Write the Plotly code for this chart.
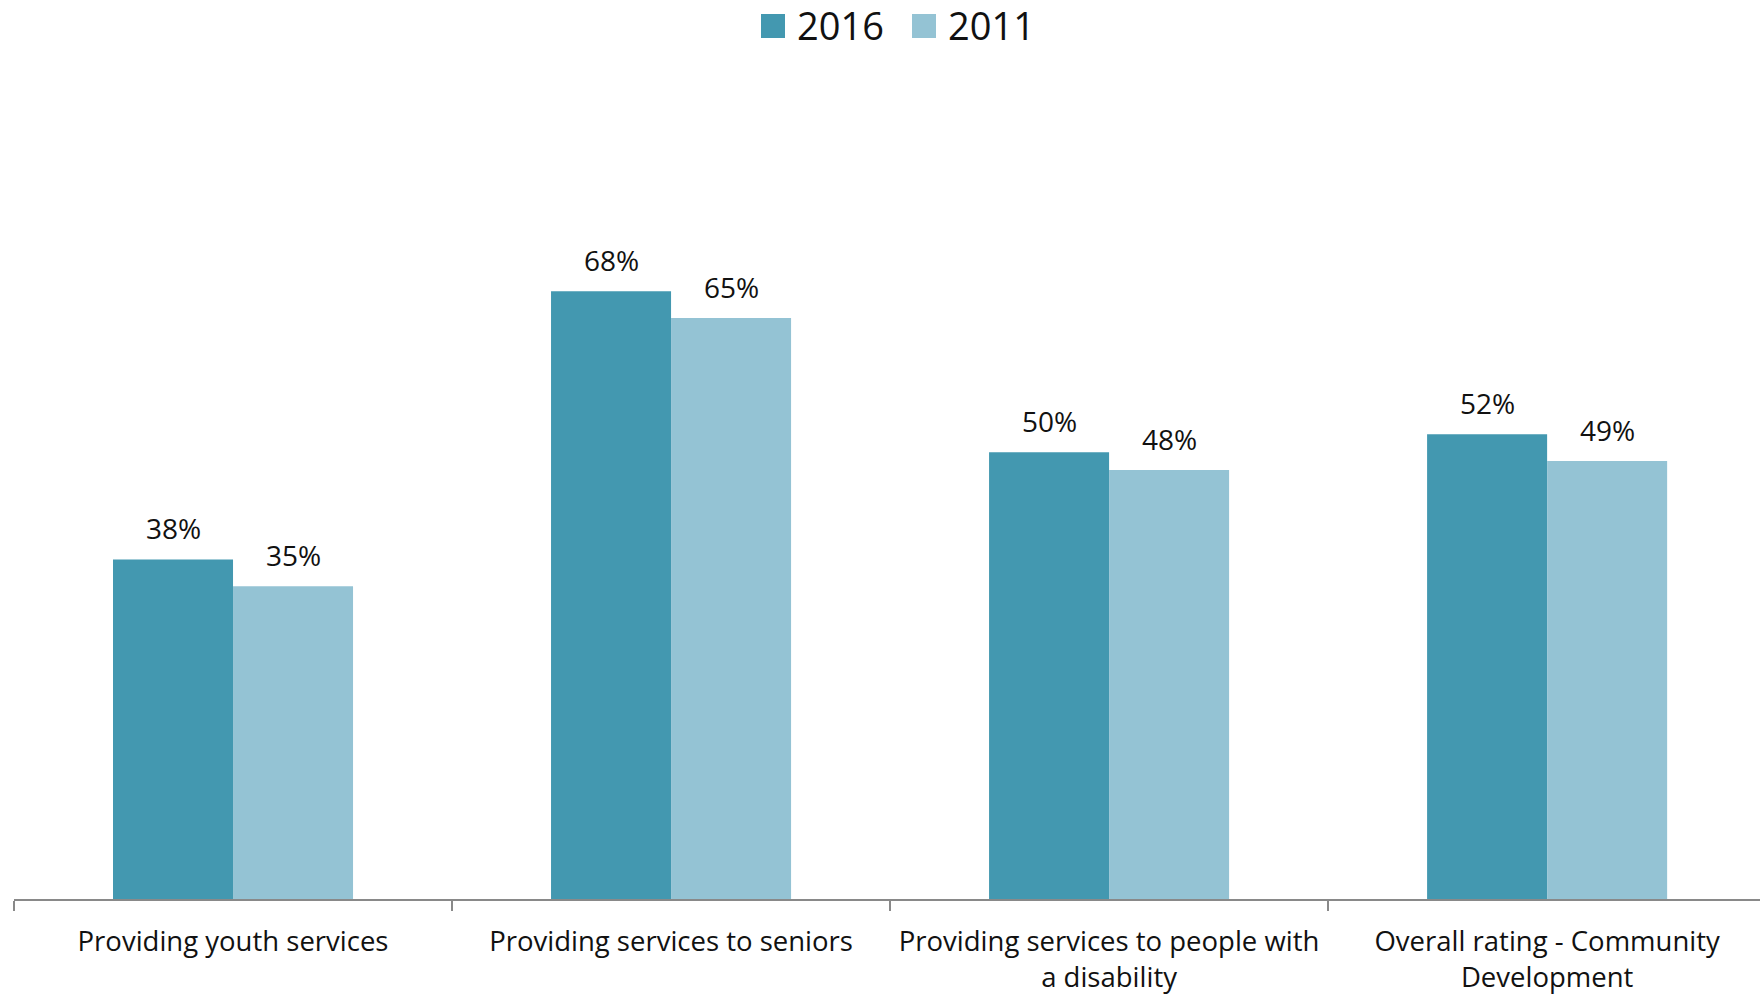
import plotly.graph_objects as go

categories = [
    "Providing youth services",
    "Providing services to seniors",
    "Providing services to people with<br>a disability",
    "Overall rating - Community<br>Development",
]
series_names = ["2016", "2011"]
values_2016 = [0.38, 0.68, 0.50, 0.52]
values_2011 = [0.35, 0.65, 0.48, 0.49]

colors = {"2016": "#4398B0", "2011": "#94C3D4"}
FONT = "Open Sans"
TEXT_COLOR = "#111111"

W, H = 1760, 996
margin = dict(l=14, r=0, t=184, b=97)
plot_w = W - margin["l"] - margin["r"]
plot_h = H - margin["t"] - margin["b"]

fig = go.Figure()
for name, vals in zip(series_names, [values_2016, values_2011]):
    fig.add_trace(
        go.Bar(
            x=categories,
            y=vals,
            name=name,
            marker=dict(color=colors[name], line=dict(width=0)),
            showlegend=False,
        )
    )

# value labels above each bar (bars in a group are 120 px wide)
bar_px = 120
for i, (name, vals) in enumerate(zip(series_names, [values_2016, values_2011])):
    shift = -bar_px / 2 if i == 0 else bar_px / 2
    for c, v in zip(categories, vals):
        fig.add_annotation(
            x=c, y=v, xref="x", yref="y",
            text=f"{round(v * 100)}%",
            showarrow=False,
            xshift=shift, yshift=10,
            yanchor="bottom", xanchor="center",
            font=dict(family=FONT, size=28, color=TEXT_COLOR),
        )

# legend drawn as swatches + labels along the top
legend_items = [("2016", 761, 795), ("2011", 912, 946)]
for name, sx, tx in legend_items:
    fig.add_shape(
        type="rect", xref="paper", yref="paper",
        x0=(sx - margin["l"]) / plot_w,
        x1=(sx + 24 - margin["l"]) / plot_w,
        y0=1 + (margin["t"] - 38) / plot_h,
        y1=1 + (margin["t"] - 14) / plot_h,
        fillcolor=colors[name], line=dict(width=0),
    )
    fig.add_annotation(
        xref="paper", yref="paper",
        x=(tx - margin["l"]) / plot_w,
        y=1 + (margin["t"] - 25) / plot_h,
        text=name, showarrow=False,
        xanchor="left", yanchor="middle",
        font=dict(family=FONT, size=38, color=TEXT_COLOR),
    )

fig.update_layout(
    width=W, height=H,
    margin=margin,
    paper_bgcolor="white",
    plot_bgcolor="white",
    barmode="group",
    bargap=0.452,
    bargroupgap=0,
    showlegend=False,
    font=dict(family=FONT, color=TEXT_COLOR),
)
fig.update_xaxes(
    type="category",
    range=[-0.5, 3.486],
    showline=True, linecolor="#898989", linewidth=2,
    ticks="outside", tickson="boundaries", ticklen=10, tickwidth=2, tickcolor="#898989",
    tickfont=dict(family=FONT, size=27.5, color=TEXT_COLOR),
    ticklabelstandoff=17,
    showgrid=False, zeroline=False,
)
fig.update_yaxes(
    range=[0, 0.8], visible=False, showgrid=False, zeroline=False,
)

fig.write_html("out.html")
